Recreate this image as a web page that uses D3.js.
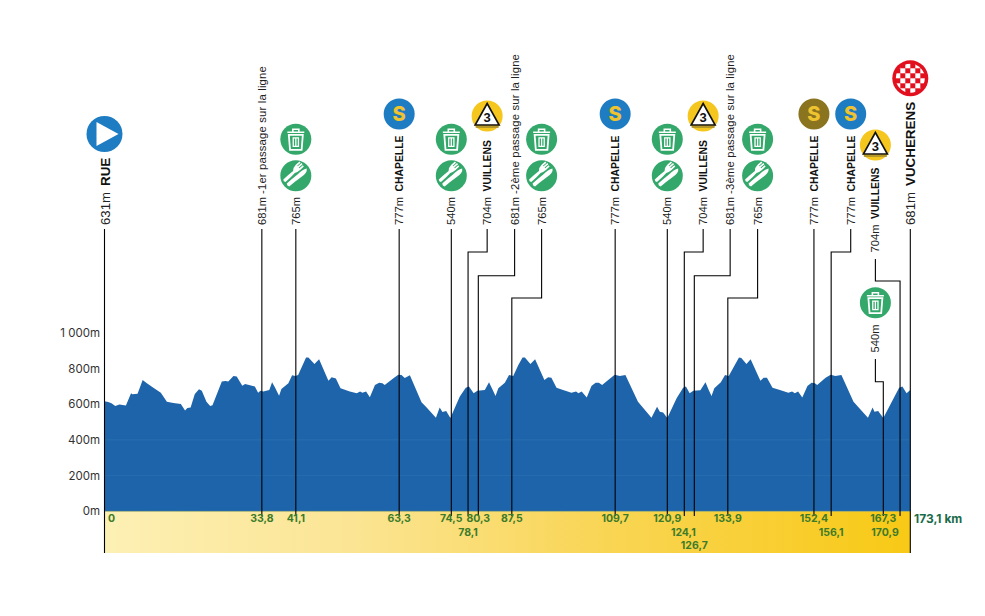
<!DOCTYPE html>
<html>
<head>
<meta charset="utf-8">
<script src="https://cdn.jsdelivr.net/npm/d3@7"></script>
<style>
body { margin: 0; background: #fff; }
svg { display: block; }
</style>
</head>
<body>
<svg id="chart" width="985" height="616"></svg>
<script>
// profile
var profileKm = [0,.8,1.5,2.3,3.2,4.6,5.7,6,7.1,8.2,9.1,10.5,12.1,13.4,14.8,16.4,17.3,17.8,18.5,19.4,20.3,20.9,21.9,22.7,23.2,25.2,26,26.6,27.7,28.4,29.6,30.2,32.3,33,33.5,34.1,35.4,36,36.6,37.5,38,39.5,40.3,41,41.6,43.3,43.8,45.1,46.1,48.1,48.8,49.7,50.7,52.7,54.2,54.9,
55.4,56.2,57,58.1,59,59.7,60.2,62,63.1,63.8,64.5,65.6,68.1,69.2,71.2,72,72.6,73.4,74.3,76.3,77.6,78.3,79.3,80.1,81.7,82.6,83.4,84,84.6,86,86.9,87.8,88.9,89.8,90.3,91.5,92.5,94.5,95.3,96,97.1,98.5,100.3,101.3,101.8,102.5,103.6,104.6,105.5,106.2,106.9,108.6,109.6,110.7,111.9,114.6,117.5,118.7,119.3,
120,120.9,122.9,124.3,124.9,125.7,126.5,128,129.1,129.8,130.4,131,132.4,133.3,134.1,135.4,136.3,136.8,137.9,138.8,140.9,141.6,142.3,143.5,145.1,146.9,147.7,148.3,149,149.9,151,151.9,152.6,153.1,154.9,156,157,158.3,160.9,164,165,165.4,166.2,167.3,170.7,171.4,172.3,173.1];
var profileAlt = [616,612,605,590,599,592,661,656,659,736,717,693,665,614,607,601,564,579,582,657,684,676,614,590,594,727,730,727,759,755,704,714,699,665,676,671,680,723,695,648,686,717,762,759,764,862,863,826,852,732,751,745,689,671,661,672,
665,672,639,708,721,717,708,745,766,764,747,762,611,581,524,582,556,562,523,642,693,699,661,676,680,723,680,646,689,721,764,759,820,862,862,826,852,736,751,749,693,680,665,671,661,671,637,702,721,721,708,745,766,759,764,614,524,586,558,
553,523,633,693,699,661,676,678,723,680,646,689,723,764,759,820,863,860,826,852,732,749,749,693,680,665,671,661,671,637,702,721,717,708,749,766,759,764,614,524,582,558,562,523,693,699,661,680];

var altTicks = [0,200,400,600,800,1000];
var altTickLabels = ["0m","200m","400m","600m","800m","1 000m"];
var altGrid = [200,400];

var stopKm = [0,33.8,41.1,63.3,74.5,78.1,80.3,87.5,109.7,120.9,124.55,126.7,133.9,152.4,156.1,167.3,170.9,173.1];
var stopKmLabels = ["0","33,8","41,1","63,3","74,5","78,1","80,3","87,5","109,7","120,9","124,1","126,7","133,9","152,4","156,1","167,3","170,9",""];
var stopAlt = ["631m","681m","765m","777m","540m","704m","681m","765m","777m","540m","704m","681m","765m","777m","777m","540m","704m","681m"];
var stopNames = ["RUE","-1er passage sur la ligne","","CHAPELLE","","VUILLENS","-2ème passage sur la ligne","","CHAPELLE","","VUILLENS","-3ème passage sur la ligne","","CHAPELLE","CHAPELLE","","VUILLENS","VUCHERENS"];
var stopIcons = ["start","","food","sprint","food","climb","","food","sprint","food","climb","","food","sprintGold","sprint","trash","climb","finish"];
var totalLabel = "173,1 km";

// leaders that dog-leg: label km, elbow height, top of leader
var doglegs = {
    5:  {labelKm: 82.2,  elbow: 252},
    6:  {labelKm: 88.1,  elbow: 275.7},
    7:  {labelKm: 93.9,  elbow: 298},
    10: {labelKm: 128.6, elbow: 252},
    11: {labelKm: 134.4, elbow: 275.7},
    12: {labelKm: 140.3, elbow: 298},
    14: {labelKm: 160.3, elbow: 252},
    15: {labelKm: 165.6, elbow: 381.7, top: 359},
    16: {labelKm: 165.6, elbow: 281, top: 259}
};
var kmRow2 = ["78,1","124,1","156,1","170,9"];
var kmRow3 = ["126,7"];
var kmShift = {"0": 7, "170,9": -15, "124,1": -1};

var svg = d3.select("#chart");
var bandBottom = 553;
var sans = "'Liberation Sans', Arial, sans-serif";
var wide = "Inter, 'DejaVu Sans', sans-serif";
var blue = "#1e64ab", green = "#33a86a";

var xScale = d3.scaleLinear().domain([0, 173.1]).range([104.5, 910.3]);
var yScale = d3.scaleLinear().domain([0, 1000]).range([511, 333]);

var defs = svg.append("defs");
var grad = defs.append("linearGradient").attr("id", "band");
[[0, "#fdf0b4"], [0.3, "#fbe595"], [0.6, "#f9d658"], [1, "#f8c915"]].forEach(function(s) {
    grad.append("stop").attr("offset", s[0]).attr("stop-color", s[1]);
});

svg.append("rect")
    .attr("x", xScale(0)).attr("y", yScale(0))
    .attr("width", xScale(173.1) - xScale(0))
    .attr("height", bandBottom - yScale(0))
    .attr("fill", "url(#band)");

var points = profileKm.map(function(k, i) { return [k, profileAlt[i]]; });
var area = d3.area()
    .x(function(d) { return xScale(d[0]); })
    .y0(yScale(0))
    .y1(function(d) { return yScale(d[1]); });
svg.append("path").datum(points).attr("d", area).attr("fill", blue);

svg.append("line")
    .attr("x1", xScale(0)).attr("x2", xScale(173.1))
    .attr("y1", yScale(0) + 0.4).attr("y2", yScale(0) + 0.4)
    .attr("stroke", "#8fa77a").attr("stroke-width", 0.8);

svg.selectAll(".grid").data(altGrid).enter().append("line")
    .attr("class", "grid")
    .attr("x1", xScale(0)).attr("x2", xScale(173.1))
    .attr("y1", function(d) { return yScale(d); })
    .attr("y2", function(d) { return yScale(d); })
    .attr("stroke", "#2b72b2").attr("stroke-width", 0.7);

var yAxis = svg.append("g")
    .attr("transform", "translate(100,0)")
    .call(d3.axisLeft(yScale).tickValues(altTicks).tickSize(0).tickPadding(0)
        .tickFormat(function(d, i) { return altTickLabels[i]; }));
yAxis.select(".domain").remove();
yAxis.selectAll("text")
    .style("font-family", wide).style("font-size", "11.5px").attr("fill", "#333");

// leaders
stopKm.forEach(function(km, i) {
    var x = xScale(km);
    var edge = i === 0 || i === stopKm.length - 1;
    var bottom = edge ? bandBottom : 516;
    var d = doglegs[i];
    var top = d && d.top ? d.top : 229;
    var path = d3.path();
    if (d) {
        path.moveTo(xScale(d.labelKm), top);
        path.lineTo(xScale(d.labelKm), d.elbow);
        path.lineTo(x, d.elbow);
    } else {
        path.moveTo(x, top);
    }
    path.lineTo(x, bottom);
    svg.append("path").attr("d", path.toString())
        .attr("fill", "none").attr("stroke", "#000").attr("stroke-width", 1.1);
});

// km labels
stopKmLabels.forEach(function(label, i) {
    if (!label) return;
    var y = 518.5;
    if (kmRow2.indexOf(label) >= 0) y = 532.7;
    if (kmRow3.indexOf(label) >= 0) y = 545.7;
    svg.append("text")
        .attr("x", xScale(stopKm[i]) + (kmShift[label] || 0))
        .attr("y", y)
        .attr("text-anchor", "middle").attr("dominant-baseline", "central")
        .style("font-family", wide).style("font-size", "10.5px").style("font-weight", 700)
        .attr("fill", "#3d7b2a")
        .text(label);
});
svg.append("text")
    .attr("x", 914).attr("y", 518.7).attr("dominant-baseline", "central")
    .style("font-family", wide).style("font-size", "12px").style("font-weight", 700)
    .attr("fill", "#1a6b4a").text(totalLabel);

// rotated stop labels
stopAlt.forEach(function(alt, i) {
    var d = doglegs[i];
    var x = d ? xScale(d.labelKm) : xScale(stopKm[i]);
    var base = d && d.top ? d.top - 6.5 : 225;
    var edge = i === 0 || i === stopAlt.length - 1;
    var note = stopNames[i].charAt(0) === "-";
    var t = svg.append("text")
        .attr("transform", "translate(" + x + "," + base + ") rotate(-90)")
        .attr("dominant-baseline", "central")
        .style("font-family", sans).attr("fill", "#222");
    t.append("tspan").style("font-size", (edge ? 13.2 : 11.2) + "px").text(alt);
    if (stopNames[i]) {
        t.append("tspan")
            .attr("dx", note ? 3 : (edge ? 6 : 5.5))
            .style("font-size", note ? "11.3px" : (edge ? "13.4px" : "10.4px"))
            .style("letter-spacing", note ? "0.17px" : "0")
            .style("font-weight", note ? 400 : 700)
            .attr("fill", note ? "#222" : "#111")
            .text(stopNames[i]);
    }
});

function iconTrash(cx, cy) {
    var g = svg.append("g").attr("transform", "translate(" + cx + "," + cy + ")");
    g.append("circle").attr("r", 15.5).attr("fill", green);
    g.append("path").attr("d", "M-8.5,-7H8.5M-3,-7V-10H3V-7")
        .attr("fill", "none").attr("stroke", "#fff").attr("stroke-width", 1.6);
    g.append("path").attr("d", "M-7,-4.5H7L5.8,10.5H-5.8Z")
        .attr("fill", "none").attr("stroke", "#fff").attr("stroke-width", 1.8);
    g.append("path").attr("d", "M-2.6,-1.5H2.6V7H-2.6ZM0,-1.5V7")
        .attr("fill", "none").attr("stroke", "#fff").attr("stroke-width", 1.3);
}

function iconFood(cx, cy) {
    var g = svg.append("g").attr("transform", "translate(" + cx + "," + cy + ")");
    g.append("circle").attr("r", 15.5).attr("fill", green);
    var r = g.append("g").attr("transform", "rotate(-40)");
    // fork
    r.append("path").attr("d", "M-12,-5.2Q-4,-5.6 1,-5.4Q3,-8 7,-8.4L12,-8.6V-6.9L7.5,-6.8V-5.9L12.5,-6V-4.4L7.5,-4.3V-3.4L12,-3.5V-1.8L7,-1.6Q3,-1.6 1,-2.8Q-4,-2 -12,-1.8Q-13.5,-3.5 -12,-5.2Z").attr("fill", "#fff");
    // knife
    r.append("path").attr("d", "M-12,0.2Q-4,0 2,0.2Q9,-0.6 13,1.4Q11,5.4 3,4.4Q-4,3.8 -12,4Q-13.5,2 -12,0.2Z").attr("fill", "#fff");
}

function iconSprint(cx, cy, fill) {
    var g = svg.append("g").attr("transform", "translate(" + cx + "," + cy + ")");
    g.append("circle").attr("r", 15.5).attr("fill", fill);
    g.append("text").attr("text-anchor", "middle").attr("dominant-baseline", "central")
        .style("font-family", wide).style("font-size", "20px").style("font-weight", 800)
        .attr("fill", "#efc22f").text("S");
}

function iconClimb(cx, cy) {
    var g = svg.append("g").attr("transform", "translate(" + cx + "," + cy + ")");
    g.append("circle").attr("r", 15.5).attr("fill", "#f5c61e");
    g.append("path").attr("d", "M-11.5,11H11.5").attr("stroke", "#a58c2a").attr("stroke-width", 1.6);
    g.append("path").attr("d", "M0,-12.5L12,9H-12Z")
        .attr("fill", "#fff").attr("stroke", "#111").attr("stroke-width", 1.6);
    g.append("text").attr("y", 1.5).attr("text-anchor", "middle").attr("dominant-baseline", "central")
        .style("font-family", sans).style("font-size", "13px").style("font-weight", 700)
        .attr("fill", "#111").text("3");
}

function iconStart(cx, cy) {
    var g = svg.append("g").attr("transform", "translate(" + cx + "," + cy + ")");
    g.append("circle").attr("r", 18).attr("fill", "#1e7cc2");
    g.append("path").attr("d", "M-8,-12L14,0L-8,12Z").attr("fill", "#fff");
}

function iconFinish(cx, cy) {
    var clip = defs.append("clipPath").attr("id", "finishClip");
    clip.append("circle").attr("r", 14.5);
    var g = svg.append("g").attr("transform", "translate(" + cx + "," + cy + ")");
    g.append("circle").attr("r", 18).attr("fill", "#e2101f");
    var board = g.append("g").attr("clip-path", "url(#finishClip)");
    var size = 5;
    d3.range(-3, 3).forEach(function(r) {
        d3.range(-3, 3).forEach(function(c) {
            if ((r + c + 6) % 2 === 0) {
                board.append("rect")
                    .attr("x", c * size).attr("y", r * size)
                    .attr("width", size).attr("height", size).attr("fill", "#fff");
            }
        });
    });
}

var iconTop = 114;
stopIcons.forEach(function(icon, i) {
    var x = xScale(stopKm[i]);
    var d = doglegs[i];
    if (d) x = xScale(d.labelKm);
    if (icon === "start") iconStart(x, 134);
    if (icon === "finish") iconFinish(x, 78.3);
    if (icon === "sprint") iconSprint(x, iconTop, "#1e7cc2");
    if (icon === "sprintGold") iconSprint(x, iconTop, "#8a7420");
    if (icon === "climb") iconClimb(x, d && d.top ? 145 : 116);
    if (icon === "trash") iconTrash(x, 302.7);
    if (icon === "food") {
        iconTrash(x, 139.3);
        iconFood(x, 175.7);
    }
});
</script>
</body>
</html>
